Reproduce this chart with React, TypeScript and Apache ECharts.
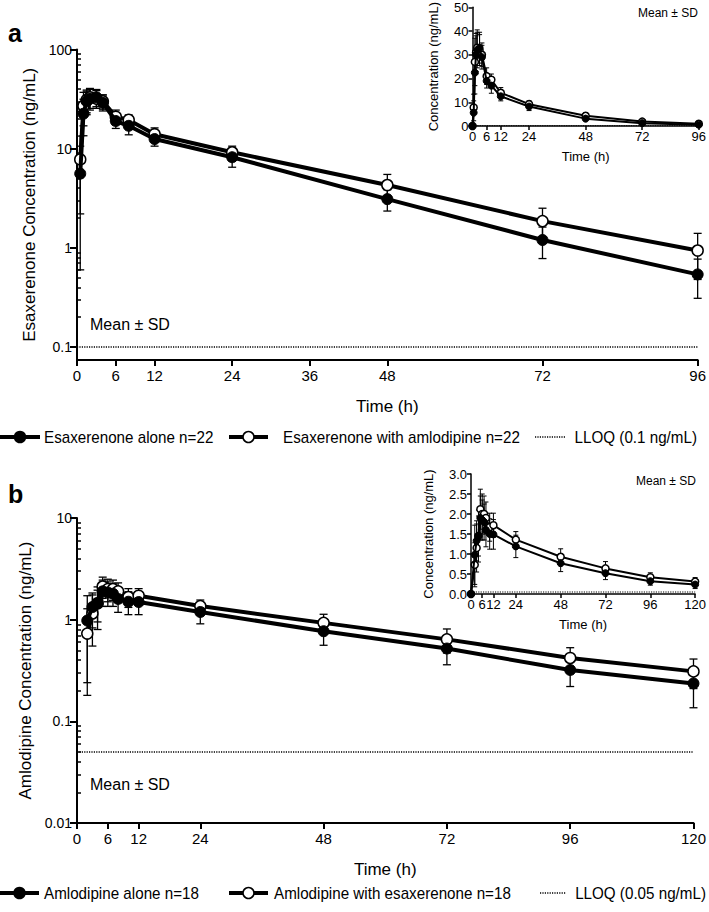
import React, { useEffect, useRef } from 'react';
import * as echarts from 'echarts';

// ---------- data ----------
const esxTimes = [0, 0.5, 1, 1.5, 2, 3, 4, 6, 8, 12, 24, 48, 72, 96];
const esxAlone = [0, 5.6, 22.5, 30, 32, 33, 29, 19, 17, 12.5, 8.2, 3.1, 1.2, 0.54];
const esxAloneSD = [0, 5.0, 9, 8, 7.5, 6.5, 5, 3, 3.2, 1.9, 1.7, 0.75, 0.42, 0.23];
const esxWith = [0, 7.8, 27, 31, 33, 32, 30, 21, 19.5, 14, 9.2, 4.3, 1.86, 0.94];
const esxWithSD = [0, 5.6, 10, 8, 7.5, 6.5, 5, 3.5, 2.4, 2.2, 1.4, 1.2, 0.65, 0.46];

const amlTimes = [0, 2, 3, 4, 5, 6, 7, 8, 10, 12, 24, 48, 72, 96, 120];
const amlAlone = [0, 0.98, 1.33, 1.45, 1.9, 1.85, 1.8, 1.6, 1.5, 1.49, 1.19, 0.77, 0.52, 0.32, 0.236];
const amlAloneSD = [0, 0.74, 0.5, 0.5, 0.55, 0.5, 0.45, 0.42, 0.38, 0.37, 0.28, 0.21, 0.16, 0.1, 0.1];
const amlWith = [0, 0.73, 1.15, 1.45, 2.12, 2.0, 2.0, 1.9, 1.67, 1.72, 1.36, 0.93, 0.64, 0.42, 0.31];
const amlWithSD = [0, 0.55, 0.6, 0.65, 0.5, 0.5, 0.45, 0.4, 0.35, 0.3, 0.2, 0.2, 0.17, 0.11, 0.1];

const lloqA = 0.1;
const lloqB = 0.05;

const mainXTicksA = [0, 6, 12, 24, 36, 48, 72, 96];
const insetXTicksA = [0, 6, 12, 24, 48, 72, 96];
const mainXTicksB = [0, 6, 12, 24, 48, 72, 96, 120];
const insetXTicksB = [0, 6, 12, 24, 48, 72, 96, 120];
const yMajorA = [0.1, 1, 10, 100];
const yMinorA = [0.2, 0.3, 0.4, 0.5, 0.6, 0.7, 0.8, 0.9, 2, 3, 4, 5, 6, 7, 8, 9, 20, 30, 40, 50, 60, 70, 80, 90];
const yMajorB = [0.01, 0.1, 1, 10];
const yMinorB = [0.02, 0.03, 0.04, 0.05, 0.06, 0.07, 0.08, 0.09, 0.2, 0.3, 0.4, 0.5, 0.6, 0.7, 0.8, 0.9, 2, 3, 4, 5, 6, 7, 8, 9];

const nameAloneA = 'Esaxerenone alone n=22';
const nameWithA = 'Esaxerenone with amlodipine n=22';
const nameLloqA = 'LLOQ (0.1 ng/mL)';
const nameAloneB = 'Amlodipine alone n=18';
const nameWithB = 'Amlodipine with esaxerenone n=18';
const nameLloqB = 'LLOQ (0.05 ng/mL)';

// ---------- helpers ----------
const REG = '"Liberation Sans", Arial, Helvetica, sans-serif';
const BLACK = '#000';
const LEGEND_SCALE = 0.95;

const pts = (times: number[], vals: number[], skipZero: boolean) =>
  times.map((t, i) => [t, vals[i]]).filter((p) => !skipZero || p[0] > 0);
const errs = (times: number[], vals: number[], sds: number[], skipZero: boolean) =>
  times.map((t, i) => [t, vals[i], sds[i]]).filter((p) => !skipZero || p[0] > 0);

function errorSeries(name: string, xi: number, yi: number, data: number[][], cap: number, lw: number, floor: number) {
  return {
    type: 'custom',
    name,
    xAxisIndex: xi,
    yAxisIndex: yi,
    data,
    encode: { x: 0, y: 1 },
    z: 1,
    silent: true,
    clip: false,
    renderItem: (params: any, api: any) => {
      const t = api.value(0);
      const m = api.value(1);
      const s = api.value(2);
      if (!(s > 0)) return { type: 'group', children: [] };
      const top = api.coord([t, m + s]);
      const lowV = m - s;
      const hasLow = lowV > floor;
      const bot = api.coord([t, hasLow ? lowV : floor]);
      const st = { stroke: BLACK, lineWidth: lw };
      const children: any[] = [
        { type: 'line', shape: { x1: top[0], y1: top[1], x2: bot[0], y2: bot[1] }, style: st },
        { type: 'line', shape: { x1: top[0] - cap, y1: top[1], x2: top[0] + cap, y2: top[1] }, style: st },
      ];
      if (hasLow) {
        children.push({ type: 'line', shape: { x1: bot[0] - cap, y1: bot[1], x2: bot[0] + cap, y2: bot[1] }, style: st });
      }
      return { type: 'group', children };
    },
  };
}

function lineSeries(name: string, xi: number, yi: number, data: number[][], filled: boolean, size: number, width: number, z: number) {
  return {
    type: 'line',
    name,
    xAxisIndex: xi,
    yAxisIndex: yi,
    data,
    symbol: 'circle',
    symbolSize: size,
    showSymbol: true,
    showAllSymbol: true,
    clip: false,
    silent: true,
    z,
    lineStyle: { color: BLACK, width },
    itemStyle: { color: filled ? BLACK : '#fff', borderColor: BLACK, borderWidth: filled ? 1 : 1.5, opacity: 1 },
  };
}

function lloqSeries(name: string, xi: number, yi: number, xmax: number, v: number, width: number) {
  return {
    type: 'line',
    name,
    xAxisIndex: xi,
    yAxisIndex: yi,
    data: [[0, v], [xmax, v]],
    symbol: 'none',
    silent: true,
    z: 2,
    lineStyle: { color: BLACK, width, type: [1.2, 1.2] },
  };
}

const axisLineStyle = (w: number) => ({ show: true, onZero: false, lineStyle: { color: BLACK, width: w } });

function mainX(gi: number, max: number, ticks: number[]) {
  return {
    gridIndex: gi,
    type: 'value',
    min: 0,
    max,
    axisLine: axisLineStyle(2),
    axisTick: { show: true, customValues: ticks, length: 6, lineStyle: { color: BLACK, width: 2 } },
    axisLabel: { show: true, customValues: ticks, color: BLACK, fontFamily: REG, fontSize: 15, margin: 8 },
    splitLine: { show: false },
    name: 'Time (h)',
    nameLocation: 'middle',
    nameGap: 38,
    nameTextStyle: { color: BLACK, fontFamily: REG, fontSize: 17 },
  };
}

function insetX(gi: number, max: number, ticks: number[]) {
  return {
    gridIndex: gi,
    type: 'value',
    min: 0,
    max,
    axisLine: axisLineStyle(1.5),
    axisTick: { show: true, customValues: ticks, length: 4, lineStyle: { color: BLACK, width: 1.5 } },
    axisLabel: { show: true, customValues: ticks, color: BLACK, fontFamily: REG, fontSize: 13, margin: 4 },
    splitLine: { show: false },
    name: 'Time (h)',
    nameLocation: 'middle',
    nameGap: 24,
    nameTextStyle: { color: BLACK, fontFamily: REG, fontSize: 13 },
  };
}

const fmtLog = (v: number) => String(Number(Number(v).toPrecision(3)));

function mainYMajor(gi: number, min: number, max: number, ticks: number[], name: string) {
  return {
    gridIndex: gi,
    type: 'log',
    logBase: 10,
    min,
    max,
    axisLine: axisLineStyle(2),
    axisTick: { show: true, customValues: ticks, length: 7, lineStyle: { color: BLACK, width: 2 } },
    axisLabel: { show: true, customValues: ticks, formatter: fmtLog, color: BLACK, fontFamily: REG, fontSize: 14, margin: 5 },
    splitLine: { show: false },
    minorTick: { show: false },
    name,
    nameLocation: 'middle',
    nameGap: 38,
    nameTextStyle: { color: BLACK, fontFamily: REG, fontSize: 17 },
  };
}

function mainYMinor(gi: number, min: number, max: number, ticks: number[]) {
  return {
    gridIndex: gi,
    type: 'log',
    logBase: 10,
    min,
    max,
    axisLine: { show: false },
    axisTick: { show: true, customValues: ticks, length: 4, lineStyle: { color: BLACK, width: 1.5 } },
    axisLabel: { show: false },
    splitLine: { show: false },
  };
}

function insetY(gi: number, max: number, interval: number, decimals: number) {
  return {
    gridIndex: gi,
    type: 'value',
    min: 0,
    max,
    interval,
    axisLine: axisLineStyle(1.5),
    axisTick: { show: true, length: 4, lineStyle: { color: BLACK, width: 1.5 } },
    axisLabel: { show: true, color: BLACK, fontFamily: REG, fontSize: 13, margin: 4, formatter: (v: number) => Number(v).toFixed(decimals) },
    splitLine: { show: false },
    name: 'Concentration (ng/mL)',
    nameLocation: 'middle',
    nameGap: decimals > 0 ? 36 : 33,
    nameTextStyle: { color: BLACK, fontFamily: REG, fontSize: 13 },
  };
}

// legend entry drawn as graphic: symbol spanning x1..x2, text anchored at tx
function legendEntry(kind: 'filled' | 'open' | 'dotted', x1: number, x2: number, y: number, text: string, tx: number, align: 'left' | 'right') {
  const font = `16px ${REG}`;
  const els: any[] = [];
  els.push({
    type: 'line',
    silent: true,
    shape: { x1, y1: y, x2, y2: y },
    style: kind === 'dotted'
      ? { stroke: BLACK, lineWidth: 1.5, lineDash: [1.2, 1.2] }
      : { stroke: BLACK, lineWidth: 4 },
  });
  if (kind !== 'dotted') {
    els.push({
      type: 'circle',
      silent: true,
      shape: { cx: (x1 + x2) / 2, cy: y, r: 5.5 },
      style: { fill: kind === 'filled' ? BLACK : '#fff', stroke: BLACK, lineWidth: 1.5 },
      z: 10,
    });
  }
  els.push({
    type: 'text',
    silent: true,
    x: tx,
    y,
    scaleX: LEGEND_SCALE,
    style: { text, font, fill: BLACK, align, verticalAlign: 'middle' },
  });
  return els;
}

export default function App() {
  const ref = useRef<HTMLDivElement>(null);

  useEffect(() => {
    if (!ref.current) return;
    const chart = echarts.init(ref.current, undefined, { renderer: 'svg' });

    const option: any = {
      animation: false,
      backgroundColor: '#fff',
      textStyle: { fontFamily: REG, color: BLACK },
      grid: [
        { left: 77, top: 49.5, width: 623, height: 310.5 },
        { left: 472.5, top: 6, width: 227.5, height: 120 },
        { left: 77, top: 518, width: 622, height: 305 },
        { left: 471, top: 474, width: 225, height: 120 },
      ],
      xAxis: [
        mainX(0, 96, mainXTicksA),
        insetX(1, 96, insetXTicksA),
        mainX(2, 120, mainXTicksB),
        insetX(3, 120, insetXTicksB),
      ],
      yAxis: [
        mainYMajor(0, 0.074, 100, yMajorA, 'Esaxerenone Concentration (ng/mL)'),
        insetY(1, 50, 10, 0),
        mainYMajor(2, 0.01, 10, yMajorB, 'Amlodipine Concentration (ng/mL)'),
        insetY(3, 3, 0.5, 1),
        mainYMinor(0, 0.074, 100, yMinorA),
        mainYMinor(2, 0.01, 10, yMinorB),
      ],
      series: [
        // panel a main
        lloqSeries(nameLloqA, 0, 0, 96, lloqA, 1.5),
        errorSeries('errA1', 0, 0, errs(esxTimes, esxWith, esxWithSD, true), 4, 1.3, 0.074),
        errorSeries('errA2', 0, 0, errs(esxTimes, esxAlone, esxAloneSD, true), 4, 1.3, 0.074),
        lineSeries(nameWithA, 0, 0, pts(esxTimes, esxWith, true), false, 11, 4, 3),
        lineSeries(nameAloneA, 0, 0, pts(esxTimes, esxAlone, true), true, 11, 4, 4),
        // panel a inset
        lloqSeries('lloqInsetA', 1, 1, 96, lloqA, 1.2),
        errorSeries('errAi1', 1, 1, errs(esxTimes, esxWith, esxWithSD, false), 2.5, 1, 0),
        errorSeries('errAi2', 1, 1, errs(esxTimes, esxAlone, esxAloneSD, false), 2.5, 1, 0),
        lineSeries('insetWithA', 1, 1, pts(esxTimes, esxWith, false), false, 7, 2, 3),
        lineSeries('insetAloneA', 1, 1, pts(esxTimes, esxAlone, false), true, 7, 2, 4),
        // panel b main
        lloqSeries(nameLloqB, 2, 2, 120, lloqB, 1.5),
        errorSeries('errB1', 2, 2, errs(amlTimes, amlWith, amlWithSD, true), 4, 1.3, 0.01),
        errorSeries('errB2', 2, 2, errs(amlTimes, amlAlone, amlAloneSD, true), 4, 1.3, 0.01),
        lineSeries(nameWithB, 2, 2, pts(amlTimes, amlWith, true), false, 11, 4, 3),
        lineSeries(nameAloneB, 2, 2, pts(amlTimes, amlAlone, true), true, 11, 4, 4),
        // panel b inset
        lloqSeries('lloqInsetB', 3, 3, 120, lloqB, 1.2),
        errorSeries('errBi1', 3, 3, errs(amlTimes, amlWith, amlWithSD, false), 2.5, 1, 0),
        errorSeries('errBi2', 3, 3, errs(amlTimes, amlAlone, amlAloneSD, false), 2.5, 1, 0),
        lineSeries('insetWithB', 3, 3, pts(amlTimes, amlWith, false), false, 7, 2, 3),
        lineSeries('insetAloneB', 3, 3, pts(amlTimes, amlAlone, false), true, 7, 2, 4),
      ],
      graphic: [
        { type: 'text', left: 8, top: 20, style: { text: 'a', font: `bold 25px ${REG}`, fill: BLACK } },
        { type: 'text', left: 8, top: 481, style: { text: 'b', font: `bold 25px ${REG}`, fill: BLACK } },
        { type: 'text', left: 90, top: 316, style: { text: 'Mean ± SD', font: `16px ${REG}`, fill: BLACK } },
        { type: 'text', left: 90, top: 776, style: { text: 'Mean ± SD', font: `16px ${REG}`, fill: BLACK } },
        { type: 'text', left: 638, top: 7, style: { text: 'Mean ± SD', font: `12px ${REG}`, fill: BLACK } },
        { type: 'text', left: 636, top: 475, style: { text: 'Mean ± SD', font: `12px ${REG}`, fill: BLACK } },
        ...legendEntry('filled', 0, 40, 437, nameAloneA, 44, 'left'),
        ...legendEntry('open', 229, 268, 437, nameWithA, 283, 'left'),
        ...legendEntry('dotted', 535, 565, 437, nameLloqA, 697, 'right'),
        ...legendEntry('filled', 0, 39, 893, nameAloneB, 44, 'left'),
        ...legendEntry('open', 229, 268, 893, nameWithB, 274, 'left'),
        ...legendEntry('dotted', 540, 566, 893, nameLloqB, 706, 'right'),
      ],
    };

    chart.setOption(option);
    return () => {
      chart.dispose();
    };
  }, []);

  return (
    <div
      ref={ref}
      style={{ position: 'absolute', left: 0, top: 0, width: 709, height: 912, background: '#fff' }}
    />
  );
}
